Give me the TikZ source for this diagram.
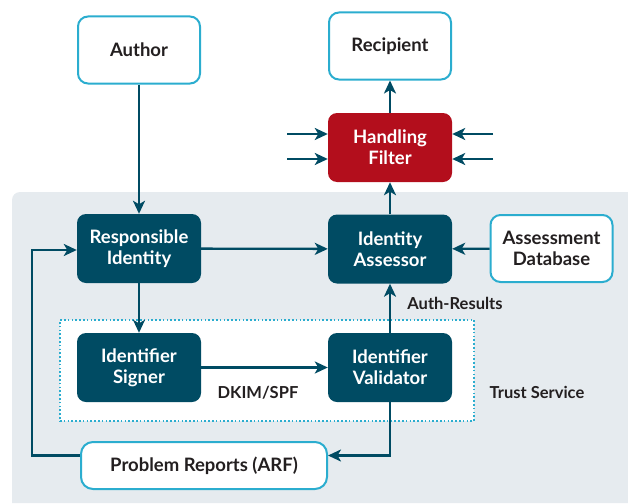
\documentclass[tikz,border=0pt]{standalone}
\usepackage{fontspec}
\setmainfont{Lato}
\usetikzlibrary{arrows.meta}
\definecolor{dteal}{HTML}{004B63}
\definecolor{lblue}{HTML}{2BADCF}
\definecolor{dred}{HTML}{B30E1C}
\definecolor{bggray}{HTML}{E6EBEF}
\definecolor{txt}{HTML}{231F20}
\tikzset{
  arr/.style={draw=dteal,line width=2.3pt,-{Stealth[length=13pt,width=12pt,inset=3.5pt]}},
  darkbox/.style={rectangle,rounded corners=9pt,fill=dteal,text=white,minimum width=124pt,minimum height=69pt,align=center,font=\bfseries\fontsize{18.5}{21}\selectfont,inner sep=0pt},
  redbox/.style={darkbox,fill=dred},
  whitebox/.style={rectangle,rounded corners=10pt,fill=white,draw=lblue,line width=2pt,text=txt,minimum width=122pt,minimum height=67pt,align=center,font=\bfseries\fontsize{18.5}{21}\selectfont,inner sep=0pt},
  lbl/.style={text=txt,font=\bfseries\fontsize{16.5}{18}\selectfont,inner sep=0pt},
}
\begin{document}
\begin{tikzpicture}[x=1pt,y=-1pt]
\useasboundingbox (0,0) rectangle (628,503);
% background
\fill[bggray] (628,503) -- (12,503) -- (12,200) arc[start angle=180,end angle=270,radius=8] -- (628,192) -- cycle;
% trust service box
\node[draw=lblue,fill=white,line width=1.6pt,dash pattern=on 1.6pt off 2.2pt,minimum width=414pt,minimum height=101pt,inner sep=0pt] (ts) at (267,370.5) {};
% nodes
\node[whitebox] (author) at (139,50) {Author};
\node[whitebox] (recip) at (390,46) {Recipient};
\node[redbox] (hf) at (390,147.5) {Handling\\Filter};
\node[darkbox] (ri) at (139,248.5) {Responsible\\Identity};
\node[darkbox] (ia) at (390,249) {Identity\\Assessor};
\node[whitebox] (ad) at (551.5,248.5) {Assessment\\Database};
\node[darkbox] (sig) at (139,367.5) {Identifier\\Signer};
\node[darkbox] (val) at (390,367.5) {Identifier\\Validator};
\node[whitebox,rounded corners=12pt,minimum width=246pt,minimum height=47pt] (pr) at (204,465.5) {Problem Reports (ARF)};
% labels
\node[lbl] (dkim) at (258,393) {DKIM/SPF};
\node[lbl] (auth) at (455,303) {Auth-Results};
\node[lbl] (trust) at (537,392) {Trust Service};
% side inputs
\coordinate (l1) at (287,134);
\coordinate (l2) at (287,159);
\coordinate (r1) at (493,134);
\coordinate (r2) at (493,159);
\draw[arr] (l1) -- (l1 -| hf.west);
\draw[arr] (l2) -- (l2 -| hf.west);
\draw[arr] (r1) -- (r1 -| hf.east);
\draw[arr] (r2) -- (r2 -| hf.east);
% connectors
\draw[arr] (author) -- (ri);
\draw[arr] (hf) -- (recip);
\draw[arr] (ia) -- (hf);
\draw[arr] (ri) -- (ia);
\draw[arr] (ad) -- (ia);
\draw[arr] (ri) -- (sig);
\draw[arr] (sig) -- (val);
\draw[arr] (val) -- (ia);
\draw[arr] (val.south) |- ([yshift=10pt]pr.east);
\coordinate (lp) at (32,455.5);
\draw[arr] ([yshift=10pt]pr.west) -- (lp) |- ([yshift=-1.5pt]ri.west);
\end{tikzpicture}
\end{document}
